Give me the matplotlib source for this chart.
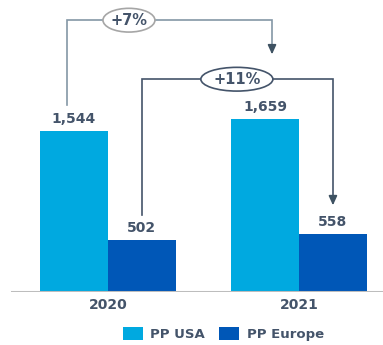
import matplotlib.pyplot as plt
from matplotlib.patches import Ellipse, Patch
import numpy as np

years = ["2020", "2021"]
usa = [1544, 1659]
europe = [502, 558]
series_names = ["PP USA", "PP Europe"]
growth_labels = ["+7%", "+11%"]

usa_color = "#00A9E0"
europe_color = "#0057B7"
text_color = "#44546A"

fig = plt.figure(figsize=(3.83, 3.45), dpi=100)
ax = fig.add_axes([0, 0.154, 1, 0.846])

x = np.arange(len(years))
w = 0.356
ax.bar(x - w / 2, usa, w, color=usa_color, zorder=2)
ax.bar(x + w / 2, europe, w, color=europe_color, zorder=2)

ax.set_xlim(-0.565, 1.44)
ax.set_ylim(0, 2804)
ax.axis("off")
ax.axhline(-5, xmin=0.032, xmax=1, color="#bdbdbd", lw=2.2, zorder=3)

for xi, v in zip(x - w / 2, usa):
    ax.text(xi, v + 45, f"{v:,}", ha="center", va="bottom", fontsize=10,
            fontweight="bold", color=text_color)
for xi, v in zip(x + w / 2, europe):
    ax.text(xi, v + 45, f"{v:,}", ha="center", va="bottom", fontsize=10,
            fontweight="bold", color=text_color)

for xi, yr in zip(x, years):
    ax.text(xi, -60, yr, ha="center", va="top", fontsize=10,
            fontweight="bold", color=text_color)


def growth_bracket(x0, x1, y0, y1, top, label, lx, lc, ec, ew):
    ax.plot([x0, x0, x1, x1], [y0, top, top, y1 + 90], color=lc, lw=1.2,
            zorder=1, solid_joinstyle="miter")
    ax.annotate("", xy=(x1, y1), xytext=(x1, y1 + 95),
                arrowprops=dict(arrowstyle="-|>,head_width=0.25,head_length=0.55",
                                color="#3E5262", lw=1.2), zorder=2)
    ax.add_patch(Ellipse((lx, top), ew, 228, facecolor="white", edgecolor=ec,
                         lw=1.2, zorder=4))
    ax.text(lx, top, label, ha="center", va="center", fontsize=10.5,
            fontweight="bold", color=text_color, zorder=5)


# USA 2020 -> 2021
growth_bracket(-0.215, 0.859, 1793, 2255, 2610, growth_labels[0], 0.11,
               "#8497A6", "#a6a6a6", 0.272)
# Europe 2020 -> 2021
growth_bracket(0.178, 1.178, 735, 805, 2043, growth_labels[1], 0.675,
               "#44546A", "#44546A", 0.377)

handles = [Patch(facecolor=usa_color), Patch(facecolor=europe_color)]
fig.legend(handles, series_names, loc="center", bbox_to_anchor=(0.583, 0.032),
           ncol=2, frameon=False, handlelength=1.5, handleheight=1.2,
           handletextpad=0.6, columnspacing=1.05,
           prop=dict(size=9.5, weight="bold"), labelcolor=text_color)

fig.savefig("out.png", dpi=100)
